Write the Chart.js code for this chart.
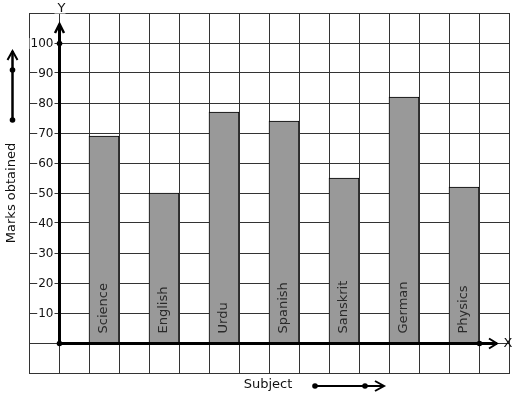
<!DOCTYPE html>
<html>
<head>
<meta charset="utf-8">
<script src="https://cdn.jsdelivr.net/npm/chart.js@4"></script>
<style>
  html, body { margin: 0; padding: 0; background: #fff; }
  #wrap { width: 517px; height: 399px; }
</style>
</head>
<body>
<div id="wrap"><canvas id="c" width="517" height="399"></canvas></div>
<script>
const subjects = ['Science', 'English', 'Urdu', 'Spanish', 'Sanskrit', 'German', 'Physics'];
const marks = [69, 50, 77, 74, 55, 82, 52];
const yTickValues = [10, 20, 30, 40, 50, 60, 70, 80, 90, 100];
const yTickLabels = ['10', '20', '30', '40', '50', '60', '70', '80', '90', '100'];
const xTitle = 'Subject';
const yTitle = 'Marks obtained';

const FONT = '"DejaVu Sans", sans-serif';

const decor = {
  id: 'decor',
  afterDatasetsDraw(chart) {
    const ctx = chart.ctx;
    const xs = chart.scales.x, ys = chart.scales.y;
    const area = chart.chartArea;
    const x0 = Math.round(xs.getPixelForValue(0)) + 0.5;
    const y0 = Math.round(ys.getPixelForValue(0)) + 0.5;
    ctx.save();

    // bar labels (rotated, inside bars)
    const meta = chart.getDatasetMeta(0);
    ctx.fillStyle = '#2a2a2a';
    ctx.font = '13px ' + FONT;
    ctx.textAlign = 'left';
    ctx.textBaseline = 'middle';
    meta.data.forEach((bar, i) => {
      ctx.save();
      ctx.translate(bar.x, y0 - 10);
      ctx.rotate(-Math.PI / 2);
      ctx.fillText(subjects[i], 0, 0);
      ctx.restore();
    });

    // y tick labels with white background over the grid line
    ctx.font = '12px ' + FONT;
    ctx.textAlign = 'right';
    yTickValues.forEach((v, i) => {
      const py = ys.getPixelForValue(v);
      const w = ctx.measureText(yTickLabels[i]).width;
      const rx = x0 - 6;
      ctx.fillStyle = '#fff';
      ctx.fillRect(rx - w - 1, py - 5, w + 2, 11);
      ctx.fillStyle = '#111';
      ctx.fillText(yTickLabels[i], rx, py + 0.5);
    });

    // Y axis
    ctx.strokeStyle = '#000';
    ctx.fillStyle = '#000';
    ctx.lineWidth = 3;
    ctx.lineCap = 'butt';
    ctx.beginPath();
    ctx.moveTo(x0, y0);
    ctx.lineTo(x0, area.top + 11);
    ctx.stroke();
    ctx.lineWidth = 2.5;
    ctx.beginPath();
    ctx.moveTo(x0 - 4.5, area.top + 20);
    ctx.lineTo(x0, area.top + 11);
    ctx.lineTo(x0 + 4.5, area.top + 20);
    ctx.stroke();

    // X axis
    const xEnd = xs.getPixelForValue(14.6);
    ctx.lineWidth = 3;
    ctx.beginPath();
    ctx.moveTo(x0, y0);
    ctx.lineTo(xEnd, y0);
    ctx.stroke();
    ctx.lineWidth = 2;
    ctx.beginPath();
    ctx.moveTo(xEnd - 8, y0 - 5);
    ctx.lineTo(xEnd, y0);
    ctx.lineTo(xEnd - 8, y0 + 5);
    ctx.stroke();

    // dots
    const dot = (x, y) => { ctx.beginPath(); ctx.arc(x, y, 2.8, 0, Math.PI * 2); ctx.fill(); };
    dot(x0, y0);
    dot(x0, Math.round(ys.getPixelForValue(100)) + 0.5);
    dot(Math.round(xs.getPixelForValue(14)) + 0.5, y0);

    // axis letters
    ctx.font = '13px ' + FONT;
    ctx.textAlign = 'center';
    ctx.textBaseline = 'middle';
    ctx.fillStyle = '#fff';
    ctx.fillRect(x0 - 5, 0, 11, area.top + 0.5);
    ctx.fillStyle = '#111';
    ctx.fillText('Y', x0 + 2, 9);
    ctx.fillText('X', xEnd + 11, y0);

    // y title + arrow
    ctx.save();
    ctx.translate(12, 193);
    ctx.rotate(-Math.PI / 2);
    ctx.fillText(yTitle, 0, 0);
    ctx.restore();
    ctx.strokeStyle = '#000';
    ctx.fillStyle = '#000';
    ctx.lineWidth = 2.5;
    ctx.beginPath();
    ctx.moveTo(12.5, 120);
    ctx.lineTo(12.5, 51);
    ctx.stroke();
    ctx.lineWidth = 2;
    ctx.beginPath();
    ctx.moveTo(7.5, 60);
    ctx.lineTo(12.5, 51);
    ctx.lineTo(17.5, 60);
    ctx.stroke();
    dot(12.5, 120);
    dot(12.5, 70);

    // x title + arrow
    ctx.fillStyle = '#111';
    ctx.fillText(xTitle, 268, 385);
    ctx.fillStyle = '#000';
    ctx.lineWidth = 2;
    ctx.beginPath();
    ctx.moveTo(315, 386);
    ctx.lineTo(383, 386);
    ctx.stroke();
    ctx.beginPath();
    ctx.moveTo(375, 381);
    ctx.lineTo(384, 386);
    ctx.lineTo(375, 391);
    ctx.stroke();
    dot(315, 386);
    dot(365, 386);

    ctx.restore();
  }
};

new Chart(document.getElementById('c'), {
  type: 'bar',
  data: {
    datasets: [{
      data: subjects.map((s, i) => ({ x: 1.5 + 2 * i, y: marks[i] })),
      backgroundColor: '#999999',
      borderColor: '#000',
      borderWidth: 1,
      categoryPercentage: 1,
      barPercentage: 1
    }]
  },
  options: {
    responsive: false,
    animation: false,
    devicePixelRatio: 1,
    layout: { padding: { left: 29, right: 8, top: 13, bottom: 26 } },
    plugins: { legend: { display: false }, tooltip: { enabled: false } },
    scales: {
      x: {
        type: 'linear',
        offset: false,
        min: -1, max: 15,
        ticks: { display: false, stepSize: 1, autoSkip: false },
        grid: { color: '#333', lineWidth: 1, drawTicks: false, offset: false },
        border: { display: true, color: '#333', width: 1 }
      },
      y: {
        min: -10, max: 110,
        ticks: { display: false, stepSize: 10, autoSkip: false },
        grid: { color: '#333', lineWidth: 1, drawTicks: false },
        border: { display: true, color: '#333', width: 1 }
      }
    }
  },
  plugins: [decor]
});
</script>
</body>
</html>
